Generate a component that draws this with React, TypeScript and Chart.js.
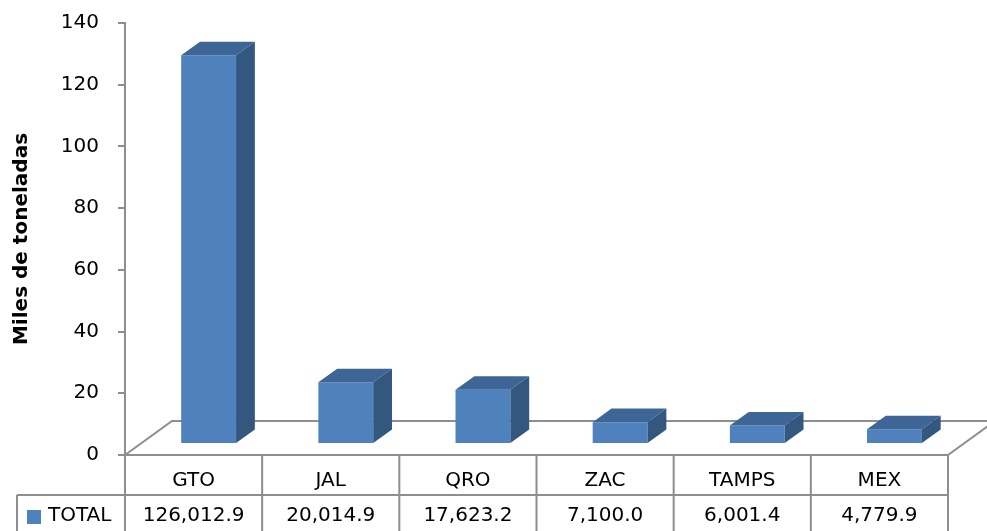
import React, { useEffect, useRef } from "react";
import { Chart, registerables } from "chart.js";

Chart.register(...registerables);

// Production by state, in tonnes
const states = ["GTO", "JAL", "QRO", "ZAC", "TAMPS", "MEX"];
const totalTonnes = [126012.9, 20014.9, 17623.2, 7100.0, 6001.4, 4779.9];
const seriesLabel = "TOTAL";
const axisTitle = "Miles de toneladas";
const yMin = 0;
const yMax = 140;
const yStep = 20;

const FONT = "'DejaVu Sans', 'Open Sans', sans-serif";
const FRONT = "#4f81bd";
const TOP = "#3d6697";
const SIDE = "#33577f";
const LINE = "#8e8e8e";

// Oblique projection of the floor depth, and where the bars sit inside it
const DEPTH_DX = 47;
const DEPTH_DY = -34;
const BAR_FRONT = 0.32;
const BAR_BACK = 0.72;

const fmt = (v: number) =>
  v.toLocaleString("en-US", { minimumFractionDigits: 1, maximumFractionDigits: 1 });

const threeD = {
  id: "threeD",
  beforeDatasetsDraw(chart: any) {
    const { ctx, chartArea } = chart;
    const { left, right, bottom } = chartArea;
    ctx.save();
    ctx.strokeStyle = LINE;
    ctx.lineWidth = 2;
    ctx.beginPath();
    ctx.moveTo(left, bottom);
    ctx.lineTo(left + DEPTH_DX, bottom + DEPTH_DY);
    ctx.lineTo(right + DEPTH_DX, bottom + DEPTH_DY);
    ctx.lineTo(right, bottom);
    ctx.stroke();
    ctx.restore();
    // bars' front faces are drawn part-way into the floor depth
    ctx.save();
    ctx.translate(DEPTH_DX * BAR_FRONT, DEPTH_DY * BAR_FRONT);
  },
  afterDatasetsDraw(chart: any) {
    const { ctx } = chart;
    ctx.restore();
    const fx = DEPTH_DX * BAR_FRONT;
    const fy = DEPTH_DY * BAR_FRONT;
    const ddx = DEPTH_DX * (BAR_BACK - BAR_FRONT);
    const ddy = DEPTH_DY * (BAR_BACK - BAR_FRONT);
    const meta = chart.getDatasetMeta(0);
    ctx.save();
    meta.data.forEach((el: any) => {
      const { x, y, base, width } = el.getProps(["x", "y", "base", "width"], true);
      const l = x - width / 2 + fx;
      const r = x + width / 2 + fx;
      const t = y + fy;
      const b = base + fy;
      ctx.fillStyle = TOP;
      ctx.beginPath();
      ctx.moveTo(l, t);
      ctx.lineTo(r, t);
      ctx.lineTo(r + ddx, t + ddy);
      ctx.lineTo(l + ddx, t + ddy);
      ctx.closePath();
      ctx.fill();
      ctx.fillStyle = SIDE;
      ctx.beginPath();
      ctx.moveTo(r, t);
      ctx.lineTo(r + ddx, t + ddy);
      ctx.lineTo(r + ddx, b + ddy);
      ctx.lineTo(r, b);
      ctx.closePath();
      ctx.fill();
    });
    ctx.restore();
  },
  afterDraw(chart: any) {
    const { ctx, chartArea, scales } = chart;
    const { left, right, bottom } = chartArea;
    const H = chart.height;
    const n = states.length;
    const colW = (right - left) / n;
    const rowSplit = bottom + 40;
    const legendLeft = 17;
    ctx.save();
    ctx.strokeStyle = LINE;
    ctx.lineWidth = 2;
    ctx.beginPath();
    ctx.moveTo(left, bottom);
    ctx.lineTo(right, bottom);
    ctx.moveTo(legendLeft, rowSplit);
    ctx.lineTo(right, rowSplit);
    ctx.moveTo(legendLeft, rowSplit);
    ctx.lineTo(legendLeft, H);
    for (let i = 0; i <= n; i++) {
      const x = left + i * colW;
      ctx.moveTo(x, bottom);
      ctx.lineTo(x, H);
    }
    ctx.stroke();

    ctx.fillStyle = "#000";
    ctx.font = `20px ${FONT}`;
    ctx.textAlign = "center";
    ctx.textBaseline = "middle";
    states.forEach((s, i) => {
      const cx = scales.x.getPixelForValue(i);
      ctx.fillText(s, cx, bottom + 26);
      ctx.fillText(fmt(totalTonnes[i]), cx, rowSplit + 21);
    });
    ctx.fillStyle = FRONT;
    ctx.fillRect(27, rowSplit + 15, 14, 14);
    ctx.fillStyle = "#000";
    ctx.textAlign = "left";
    ctx.fillText(seriesLabel, 48, rowSplit + 21);
    ctx.restore();
  },
};

export default function App() {
  const ref = useRef<HTMLCanvasElement | null>(null);
  useEffect(() => {
    if (!ref.current) return;
    const chart = new Chart(ref.current, {
      type: "bar",
      data: {
        labels: states,
        datasets: [
          {
            label: seriesLabel,
            data: totalTonnes.map((v) => v / 1000),
            backgroundColor: FRONT,
            borderWidth: 0,
            categoryPercentage: 1,
            barPercentage: 0.4,
          },
        ],
      },
      options: {
        animation: false,
        responsive: false,
        devicePixelRatio: 1,
        layout: { padding: { left: 0, top: 23, right: 39, bottom: 76 } },
        plugins: { legend: { display: false }, tooltip: { enabled: false } },
        scales: {
          x: { type: "category", display: false },
          y: {
            min: yMin,
            max: yMax,
            afterFit: (scale: any) => {
              scale.width = 125;
              scale.paddingTop = 0;
              scale.paddingBottom = 0;
            },
            ticks: {
              stepSize: yStep,
              padding: 19,
              color: "#000",
              font: { family: FONT, size: 20 },
            },
            grid: {
              drawOnChartArea: false,
              drawTicks: true,
              tickLength: 7,
              color: LINE,
              lineWidth: 2,
            },
            border: { display: true, color: LINE, width: 2 },
            title: {
              display: true,
              text: axisTitle,
              color: "#000",
              font: { family: FONT, size: 20, weight: "bold" },
              padding: { top: 10, bottom: 0 },
            },
          },
        },
      },
      plugins: [threeD],
    });
    return () => chart.destroy();
  }, []);

  return (
    <div style={{ position: "absolute", left: 0, top: 0, width: 987, height: 531, background: "#fff" }}>
      <canvas ref={ref} width={987} height={531} />
    </div>
  );
}
